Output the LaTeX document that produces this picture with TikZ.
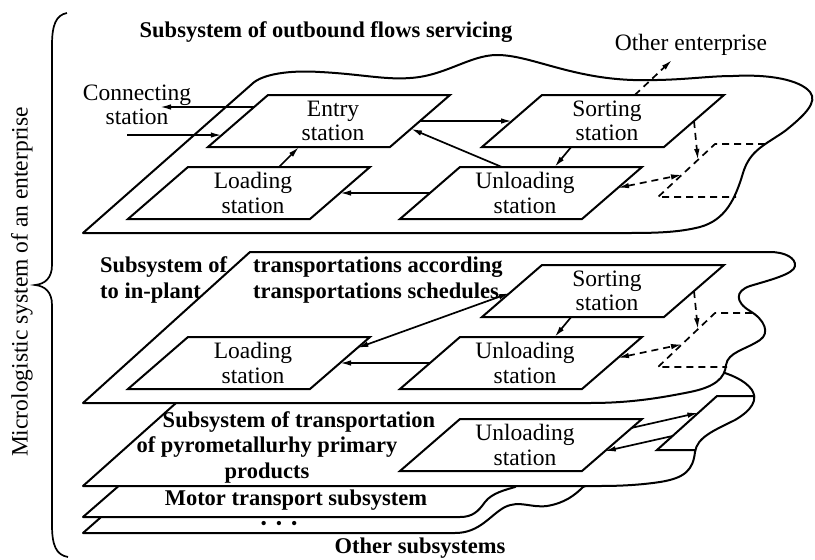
\documentclass[tikz,border=0pt]{standalone}
\usepackage{fontspec}
\setmainfont{Liberation Serif}
\usetikzlibrary{calc,arrows.meta}

% parallelogram station: name, x, y, text
\newcommand{\station}[4]{%
  \node[sttext] (#1) at (#2+4,#3) {#4};
  \coordinate (#1-bl) at (#2-121,#3+26);
  \coordinate (#1-br) at (#2+61,#3+26);
  \coordinate (#1-tr) at (#2+121,#3-26);
  \coordinate (#1-tl) at (#2-61,#3-26);
  \draw[stframe] (#1-bl) -- (#1-br) -- (#1-tr) -- (#1-tl) -- cycle;
}

\begin{document}
\begin{tikzpicture}[x=1pt,y=-1pt,
  every node/.style={font=\fontsize{23.5}{24.5}\selectfont,inner sep=0pt},
  plane/.style={draw,fill=white,line width=2pt,line join=round},
  stframe/.style={draw,line width=2pt},
  sttext/.style={align=center},
  title/.style={font=\fontsize{22.5}{26}\selectfont\bfseries,align=left},
  flow/.style={line width=1.7pt,-{Latex[length=11pt,width=5.5pt]}},
  both/.style={line width=1.7pt,{Latex[length=11pt,width=5.5pt]}-{Latex[length=11pt,width=5.5pt]}},
  dline/.style={line width=1.7pt,dash pattern=on 7pt off 5pt}]
\useasboundingbox (0,0) rectangle (815,560);
%
% brace and its label
\draw[line width=1.7pt] (67,13) .. controls (56,15) and (52,25) .. (52,45) -- (52,265)
  .. controls (52,278) and (45,284) .. (35,285) .. controls (45,286) and (52,292) .. (52,305)
  -- (52,525) .. controls (52,545) and (56,555) .. (68,557);
\node[rotate=90] (mlabel) at (22,282) {Micrologistic system of an enterprise};
%
% planes, from the bottom one up
\draw[plane] (83,533) -- (143,480) -- (600,480) -- (583,487)
  .. controls (575,495) and (565,503) .. (547,506) .. controls (530,508) and (520,500) .. (505,507)
  .. controls (490,515) and (480,533) .. (455,533) -- cycle;
\draw[plane] (83,517) -- (137,470) -- (530,470) -- (515,487)
  .. controls (505,490) and (492,493) .. (485,502) .. controls (478,512) and (472,517) .. (460,517) -- cycle;
\draw[plane] (83,486) -- (213,370) -- (715,370) .. controls (730,374) and (745,380) .. (752,390)
  .. controls (758,400) and (752,410) .. (735,420) .. controls (715,430) and (697,437) .. (695,452)
  .. controls (693,470) and (685,478) .. (660,482) .. controls (640,485) and (620,486) .. (600,486) -- cycle;
\draw[plane] (83,403) -- (250,252) -- (770,252) .. controls (785,252) and (796,258) .. (795,266)
  .. controls (794,274) and (770,280) .. (750,286) .. controls (735,291) and (735,302) .. (750,311)
  .. controls (765,320) and (770,333) .. (760,340) .. controls (745,350) and (728,352) .. (726,365)
  .. controls (725,378) and (715,387) .. (690,392) .. controls (660,398) and (630,403) .. (590,403) -- cycle;
\draw[plane] (83,233) -- (252,84) .. controls (262,74) and (290,70) .. (320,72)
  .. controls (360,74) and (385,80) .. (410,78) .. controls (445,76) and (470,55) .. (497,55)
  .. controls (530,55) and (570,78) .. (633,80) .. controls (680,81) and (705,76) .. (733,76)
  .. controls (770,74) and (800,80) .. (810,92) .. controls (818,102) and (805,115) .. (785,131)
  .. controls (765,145) and (750,150) .. (743,173) .. controls (735,200) and (725,220) .. (700,227)
  .. controls (680,232) and (660,233) .. (630,233) -- cycle;
%
% titles
\node[title] (t-out) at (326,32) {Subsystem of outbound flows servicing};
\node[title,anchor=west] (t-inplant-a) at (100,280) {Subsystem of\\to in-plant};
\node[title,anchor=west] (t-inplant-b) at (253,280) {transportations according\\transportations schedules};
\node[title] (t-pyro-a) at (299,422) {Subsystem of transportation};
\node[title,align=center] (t-pyro-b) at (267,460) {of pyrometallurhy primary\\products};
\node[title] (t-motor) at (296,500) {Motor transport subsystem};
\node[font=\fontsize{18}{18}\selectfont] (dots) at (279,525) {\textbullet\hspace{9pt}\textbullet\hspace{9pt}\textbullet};
\node[title] (t-other) at (420,548) {Other subsystems};
%
% outbound flows
\station{entry}{329}{121}{Entry\\station}
\station{sort}{603}{121}{Sorting\\station}
\station{load}{249}{193}{Loading\\station}
\station{unload}{521}{193}{Unloading\\station}
\node[align=center] (t-conn) at (137,105) {Connecting\\station};
\node (t-oe) at (691,45) {Other enterprise};
\coordinate (conn-out) at (160,107);
\coordinate (conn-in) at (127,135);
\coordinate (oe) at (672,60);
\coordinate (oe-tr) at (765,144);
\coordinate (oe-t) at (715,144);
\coordinate (oe-b) at (658,197);
\coordinate (oe-br) at (736,197);
\draw[flow] ($(entry-bl)!0.77!(entry-tl)$) -- (conn-out);
\draw[flow] (conn-in) -- ($(entry-bl)!0.23!(entry-tl)$);
\draw[flow] ($(load-tl)!0.5!(load-tr)$) -- ($(entry-bl)!0.5!(entry-br)$);
\draw[flow] ($(unload-bl)!0.5!(unload-tl)$) -- ($(load-br)!0.5!(load-tr)$);
\draw[flow] ($(unload-tl)!0.23!(unload-tr)$) -- ($(entry-br)!0.35!(entry-tr)$);
\draw[flow] ($(entry-br)!0.5!(entry-tr)$) -- ($(sort-bl)!0.5!(sort-tl)$);
\draw[flow] ($(sort-bl)!0.49!(sort-br)$) -- ($(unload-tl)!0.52!(unload-tr)$);
\draw[dline] (oe-tr) -- (oe-t) -- (oe-b) -- (oe-br);
\draw[dline,flow] ($(sort-tl)!0.51!(sort-tr)$) -- (oe);
\draw[dline,flow] ($(sort-br)!0.5!(sort-tr)$) -- ($(oe-t)!0.3!(oe-b)$);
\draw[dline,both] ($(unload-br)!0.6!(unload-tr)$) -- ($(oe-t)!0.58!(oe-b)$);
%
% in-plant transportations
\station{sort2}{603}{291}{Sorting\\station}
\station{load2}{249}{363}{Loading\\station}
\station{unload2}{521}{363}{Unloading\\station}
\coordinate (oe2-tr) at (752,313);
\coordinate (oe2-t) at (715,313);
\coordinate (oe2-b) at (658,367);
\coordinate (oe2-br) at (727,367);
\draw[both] ($(load2-br)!0.79!(load2-tr)$) -- ($(sort2-bl)!0.46!(sort2-tl)$);
\draw[flow] ($(unload2-bl)!0.5!(unload2-tl)$) -- ($(load2-br)!0.5!(load2-tr)$);
\draw[flow] ($(sort2-bl)!0.49!(sort2-br)$) -- ($(unload2-tl)!0.52!(unload2-tr)$);
\draw[dline] (oe2-tr) -- (oe2-t) -- (oe2-b) -- (oe2-br);
\draw[dline,flow] ($(sort2-br)!0.5!(sort2-tr)$) -- ($(oe2-t)!0.3!(oe2-b)$);
\draw[dline,both] ($(unload2-br)!0.6!(unload2-tr)$) -- ($(oe2-t)!0.58!(oe2-b)$);
%
% pyrometallurgy products
\station{unload3}{521}{445}{Unloading\\station}
\coordinate (ex-tr) at (755,396);
\coordinate (ex-tl) at (717,396);
\coordinate (ex-bl) at (657,450);
\coordinate (ex-br) at (695,450);
\draw[stframe] (ex-tr) -- (ex-tl) -- (ex-bl) -- (ex-br);
\draw[flow] ($(unload3-br)!0.83!(unload3-tr)$) -- ($(ex-tl)!0.31!(ex-bl)$);
\draw[flow] ($(ex-tl)!0.74!(ex-bl)$) -- ($(unload3-br)!0.38!(unload3-tr)$);
\end{tikzpicture}
\end{document}
